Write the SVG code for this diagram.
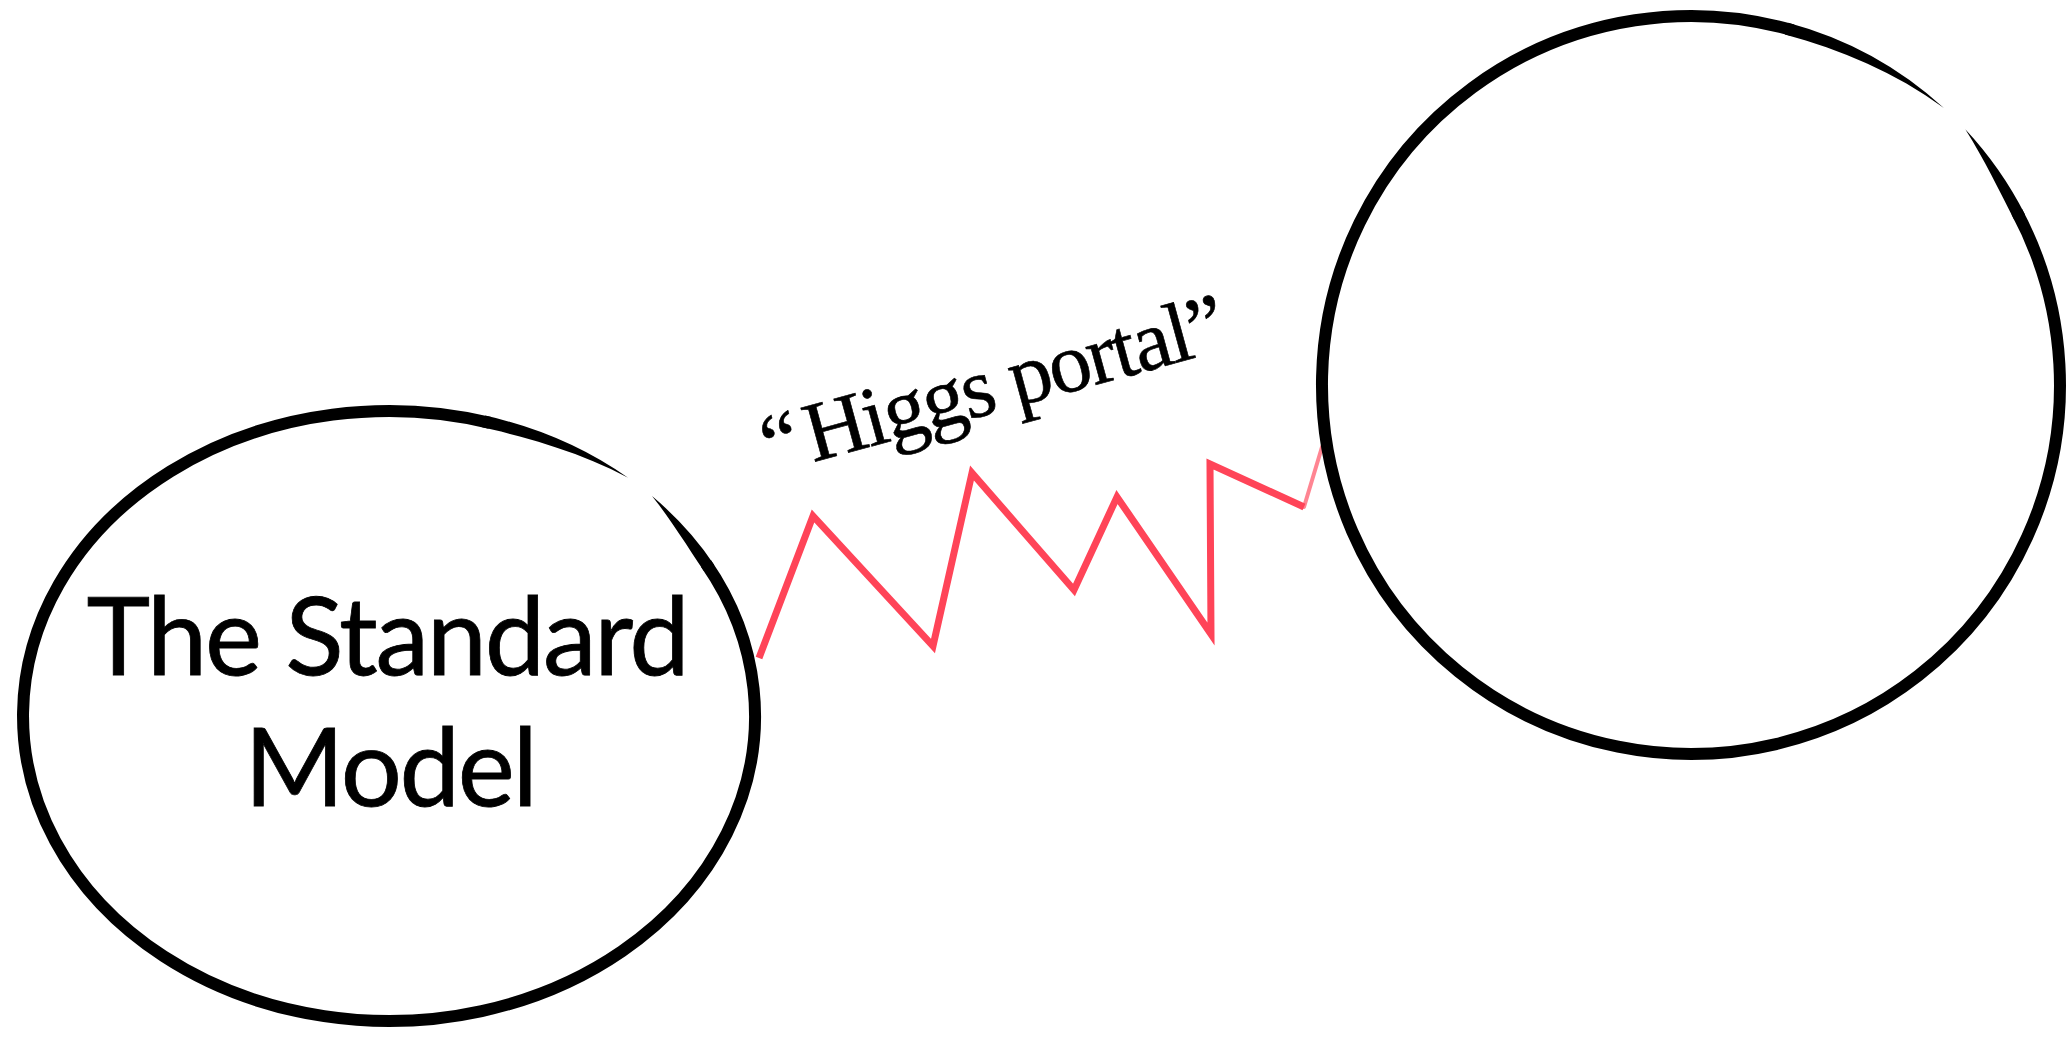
<svg xmlns="http://www.w3.org/2000/svg" width="2069" height="1038" viewBox="0 0 2069 1038">
  <style>
    .brush { fill: #000; stroke: none; }
    .ringline { fill: none; stroke: #000; stroke-width: 12; stroke-linecap: butt; }
    .label { font-family: Lato, "Liberation Sans", sans-serif; font-size: 108px; letter-spacing: -2.3px; fill: #000; stroke: #000; stroke-width: 0.8; text-anchor: middle; }
    .portal { font-family: "Liberation Serif", serif; font-size: 85px; letter-spacing: -2.2px; fill: #000; stroke: #000; stroke-width: 0.6; }
    .zig { fill: none; stroke: #FF4458; stroke-width: 7; stroke-linejoin: miter; stroke-miterlimit: 10; stroke-linecap: butt; }
    .zigend { fill: none; stroke: #FF4458; stroke-opacity: 0.65; stroke-width: 4; stroke-linecap: round; }
  </style>
  <rect width="2069" height="1038" fill="#fff"/>
  <g id="connectors">
    <polyline class="zig" points="759,658 813,516 933,646 972,473 1074,590 1117,497 1211,634 1210,464 1304,507"/>
    <polyline class="zigend" points="1304,507 1322,447"/>
  </g>
  <g id="standard-model">
    <path class="ringline" d="M706.0,563.5 A366,305 0 1,1 489.9,422.8"/>
    <path class="brush" d="M652.0,496.1 A372,311 0 0,1 714.4,565.2 L703.9,571.0 L697.8,561.9 L691.7,552.7 L685.6,543.3 L679.3,533.9 L672.9,524.5 L666.3,515.0 L659.4,505.5 Z"/>
    <path class="brush" d="M485.3,415.6 A372,311 0 0,1 628.1,477.8 L610.8,469.1 L593.1,461.2 L575.1,454.1 L556.8,447.7 L538.4,441.8 L519.8,436.5 L501.1,431.6 L482.2,427.2 Z"/>
    <text class="label" x="387" y="675">The Standard</text>
    <text class="label" x="390" y="806">Model</text>
  </g>
  <g id="hidden-sector">
    <path class="ringline" d="M2016.8,211.8 A369,369 0 1,1 1792.7,30.3"/>
    <path class="brush" d="M1965.3,129.2 A375,375 0 0,1 2025.1,214.7 L2014.4,220.2 L2008.7,208.9 L2002.9,197.6 L1997.1,186.2 L1991.2,174.8 L1985.1,163.3 L1978.8,151.9 L1972.2,140.5 Z"/>
    <path class="brush" d="M1788.1,22.8 A375,375 0 0,1 1943.9,108.1 L1925.4,95.3 L1906.4,83.6 L1886.8,73.1 L1867.0,63.5 L1846.9,54.9 L1826.4,47.2 L1805.8,40.4 L1784.9,34.4 Z"/>
  </g>
  <g id="portal-label">
    <text class="portal" transform="translate(770,474) rotate(-15.3)">“<tspan dx="9">Higgs portal”</tspan></text>
  </g>
</svg>
